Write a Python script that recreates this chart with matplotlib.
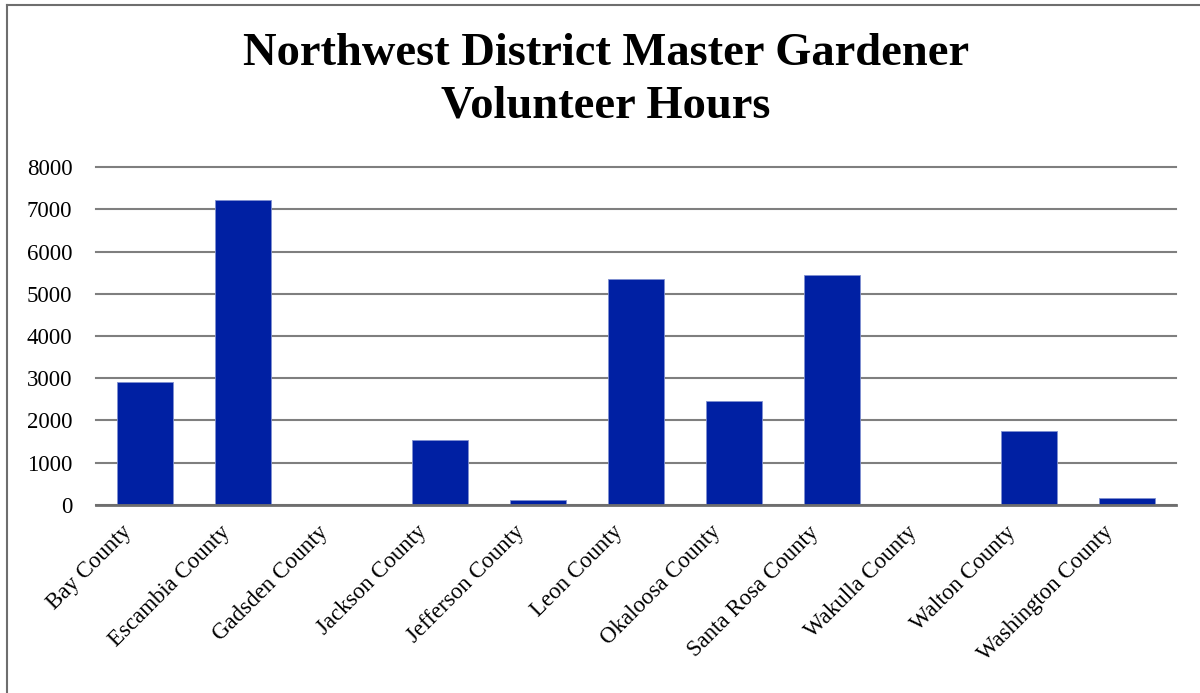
import matplotlib.pyplot as plt
import matplotlib.transforms as mtransforms
from matplotlib.lines import Line2D

counties = ['Bay County', 'Escambia County', 'Gadsden County', 'Jackson County',
            'Jefferson County', 'Leon County', 'Okaloosa County', 'Santa Rosa County',
            'Wakulla County', 'Walton County', 'Washington County']
hours = [2920, 7220, 0, 1540, 120, 5350, 2460, 5450, 0, 1750, 170]
y_ticks = [0, 1000, 2000, 3000, 4000, 5000, 6000, 7000, 8000]

plt.rcParams['font.family'] = ['Liberation Serif', 'DejaVu Serif']

fig = plt.figure(figsize=(12, 6.93), dpi=100)
fig.set_facecolor('white')

ax = fig.add_axes([0.08, 0.2713, 0.9, 0.4877])

x = list(range(len(counties)))
ax.bar(x, hours, width=0.57, color='#0020a3', edgecolor='#8090d0', linewidth=0.6, zorder=3)

ax.set_xlim(-0.5, len(counties) - 0.5)
ax.set_ylim(0, 8000)
ax.set_yticks(y_ticks)
ax.set_yticklabels([str(t) for t in y_ticks], fontsize=16.5)
ax.set_xticks(x)
ax.set_xticklabels(counties, fontsize=16.5, rotation=45, ha='right', rotation_mode='anchor')
ax.tick_params(axis='both', length=0)
ax.tick_params(axis='y', pad=17)
ax.tick_params(axis='x', pad=12)

# nudge the slanted labels left, as in the original
shift = mtransforms.ScaledTranslation(-24 / 100, 0, fig.dpi_scale_trans)
for lbl in ax.get_xticklabels():
    lbl.set_transform(lbl.get_transform() + shift)

ax.grid(axis='y', color='#7f7f7f', linewidth=1.5, zorder=0)
for gl in ax.get_ygridlines():
    gl.set_clip_on(False)
for side in ['top', 'right', 'left']:
    ax.spines[side].set_visible(False)
ax.spines['bottom'].set_color('#6e6e6e')
ax.spines['bottom'].set_linewidth(2)
ax.spines['bottom'].set_zorder(4)

fig.text(0.505, 0.922, 'Northwest District Master Gardener', ha='center', va='center',
         fontsize=33.5, fontweight='bold')
fig.text(0.505, 0.846, 'Volunteer Hours', ha='center', va='center',
         fontsize=33.5, fontweight='bold')

# frame around the chart area (only top and left show)
fig.add_artist(Line2D([7 / 1200, 7 / 1200], [0, 1 - 5 / 693], color='#6e6e6e', linewidth=1.5,
                      transform=fig.transFigure))
fig.add_artist(Line2D([7 / 1200, 1], [1 - 5 / 693, 1 - 5 / 693], color='#6e6e6e', linewidth=1.5,
                      transform=fig.transFigure))

fig.savefig('out.png', dpi=100)
